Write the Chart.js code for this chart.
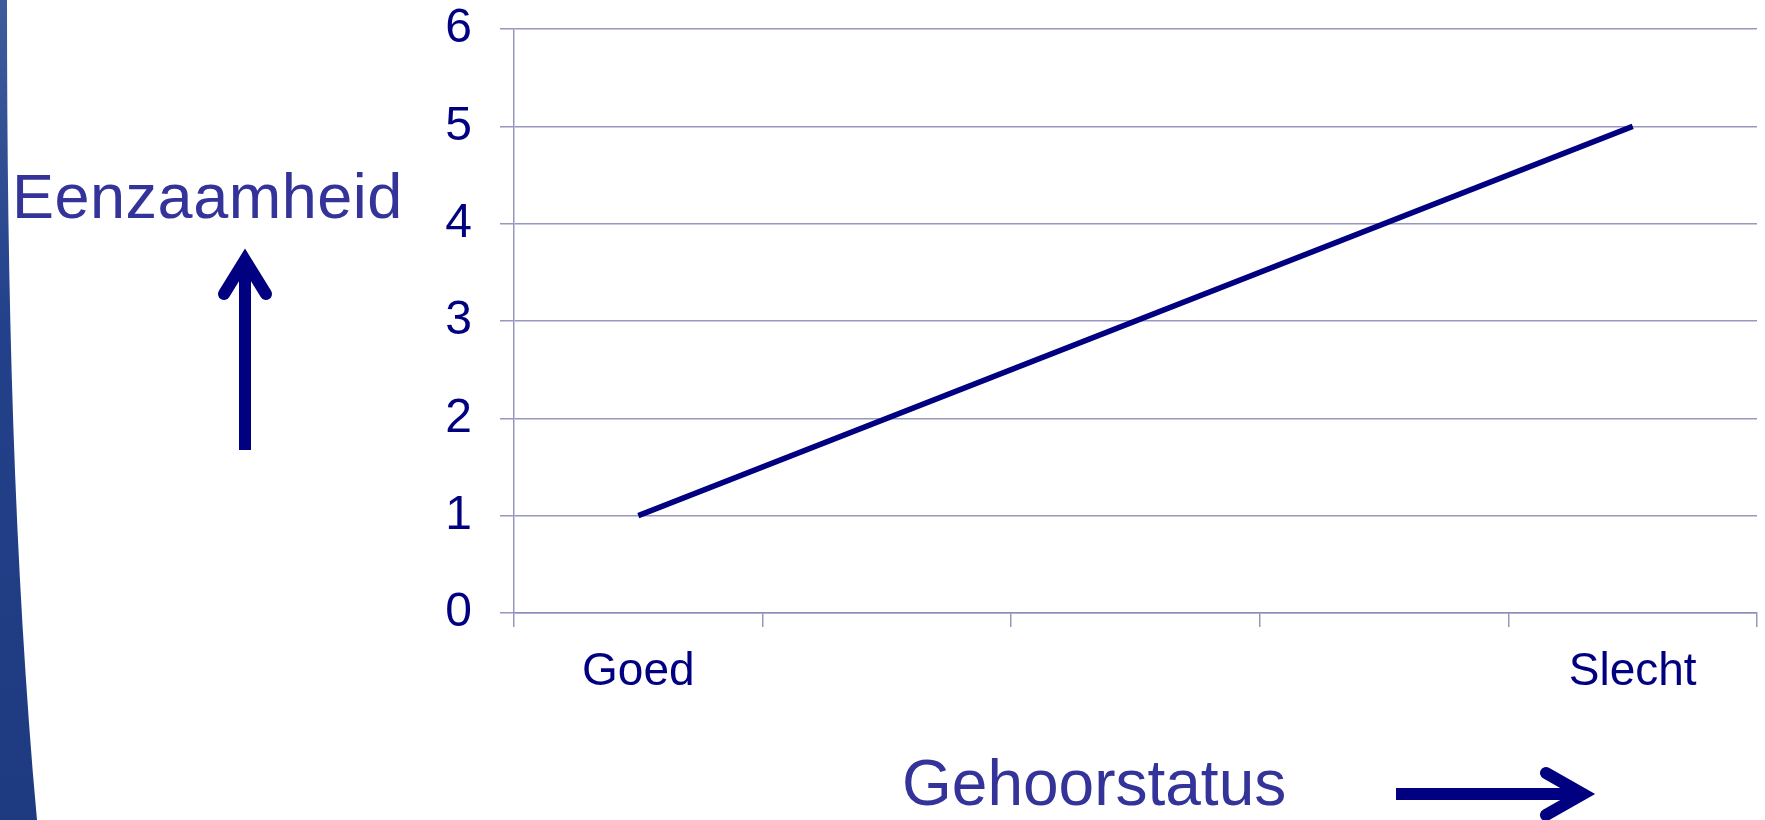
<!DOCTYPE html>
<html>
<head>
<meta charset="utf-8">
<script src="https://cdn.jsdelivr.net/npm/chart.js@4"></script>
<style>
  html, body { margin: 0; padding: 0; background: #fff; }
  #wrap { position: relative; width: 1765px; height: 820px; overflow: hidden; }
  .title { position: absolute; font-family: "Liberation Sans", Arial, sans-serif; color: #333399; white-space: nowrap; }
  #ytitle { left: 12px; top: 160px; font-size: 63px; letter-spacing: 0.5px; }
  #xtitle { left: 902px; top: 746px; font-size: 64px; }
</style>
</head>
<body>
<div id="wrap">
  <canvas id="chart" width="1765" height="820"></canvas>
  <div class="title" id="ytitle">Eenzaamheid</div>
  <div class="title" id="xtitle">Gehoorstatus</div>
</div>
<script>
// data
const categories = ["Goed", "", "", "", "Slecht"];
const eenzaamheid = [1, null, null, null, 5];
const yTicks = [0, 1, 2, 3, 4, 5, 6];

const navy = "#000080";
const gridColor = "rgba(140, 140, 185, 0.9)";

// decoration: blue band on the left edge and the two arrows
const decoration = {
  id: "decoration",
  beforeDraw(chart) {
    const ctx = chart.ctx;
    ctx.save();
    const grad = ctx.createLinearGradient(0, 0, 0, 820);
    grad.addColorStop(0, "#3e5b9b");
    grad.addColorStop(0.4, "#23418a");
    grad.addColorStop(1, "#1e3a80");
    ctx.fillStyle = grad;
    ctx.beginPath();
    ctx.moveTo(0, 0);
    ctx.lineTo(7, 0);
    ctx.bezierCurveTo(7, 300, 14, 560, 37, 820);
    ctx.lineTo(0, 820);
    ctx.closePath();
    ctx.fill();
    ctx.restore();
  },
  afterDraw(chart) {
    const ctx = chart.ctx;
    ctx.save();
    ctx.strokeStyle = navy;
    ctx.lineWidth = 12;
    // up arrow
    ctx.lineCap = "butt";
    ctx.beginPath();
    ctx.moveTo(245, 450);
    ctx.lineTo(245, 262);
    ctx.stroke();
    ctx.lineCap = "round";
    ctx.lineJoin = "miter";
    ctx.beginPath();
    ctx.moveTo(224, 294);
    ctx.lineTo(245, 260);
    ctx.lineTo(266, 294);
    ctx.stroke();
    // right arrow
    ctx.lineCap = "butt";
    ctx.beginPath();
    ctx.moveTo(1396, 794);
    ctx.lineTo(1580, 794);
    ctx.stroke();
    ctx.lineCap = "round";
    ctx.beginPath();
    ctx.moveTo(1546, 773);
    ctx.lineTo(1583, 794);
    ctx.lineTo(1546, 815);
    ctx.stroke();
    ctx.restore();
  }
};

new Chart(document.getElementById("chart"), {
  type: "line",
  data: {
    labels: categories,
    datasets: [{
      data: eenzaamheid,
      borderColor: navy,
      borderWidth: 5.5,
      pointRadius: 0,
      spanGaps: true,
      tension: 0
    }]
  },
  options: {
    responsive: false,
    animation: false,
    events: [],
    layout: { padding: { top: 29, right: 8, left: 0, bottom: 0 } },
    plugins: { legend: { display: false }, tooltip: { enabled: false } },
    scales: {
      x: {
        offset: true,
        afterFit(scale) { scale.height = 207; scale.paddingLeft = 0; scale.paddingRight = 0; },
        grid: { offset: true, drawOnChartArea: false, drawTicks: true, tickLength: 14, color: gridColor, lineWidth: 1.5 },
        border: { color: gridColor, width: 1.5 },
        ticks: {
          color: navy,
          padding: 18,
          maxRotation: 0,
          autoSkip: false,
          font: { family: "'Liberation Sans', Arial, sans-serif", size: 46 }
        }
      },
      y: {
        min: 0,
        max: 6,
        afterFit(scale) { scale.width = 514; scale.paddingTop = 0; scale.paddingBottom = 0; },
        afterBuildTicks(scale) { scale.ticks = yTicks.map(v => ({ value: v })); },
        grid: { color: gridColor, lineWidth: 1.5, tickLength: 14 },
        border: { color: gridColor, width: 1.5 },
        ticks: {
          color: navy,
          padding: 28,
          font: { family: "'Liberation Sans', Arial, sans-serif", size: 48 }
        }
      }
    }
  },
  plugins: [decoration]
});
</script>
</body>
</html>
